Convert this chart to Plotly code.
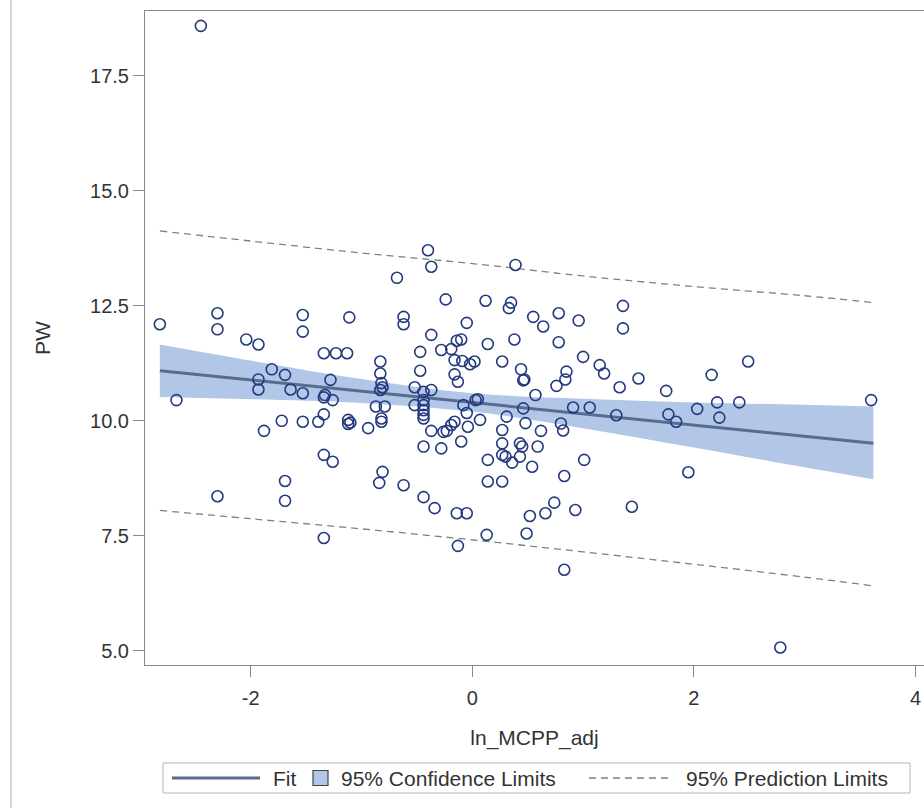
import plotly.graph_objects as go

# ---------------- data ----------------
ln_mcpp_adj = [
    -2.82, -2.67, -2.45, -2.30, -2.30, -2.30, -2.04, -1.93, -1.81, -1.93,
    -1.93, -1.69, -1.64, -1.53, -1.53, -1.53, -1.88, -1.72, -1.53, -1.69,
    -1.69, -1.11, -1.34, -1.23, -1.13, -1.28, -1.34, -1.33, -1.26, -1.39,
    -1.34, -1.12, -1.12, -1.10, -0.94, -1.34, -1.26, -1.34,
    -0.83, -0.83, -0.82, -0.81, -0.83, -0.87, -0.79, -0.82, -0.82, -0.81, -0.84,
    -0.68, -0.62, -0.62, -0.62, -0.47, -0.47, -0.52, -0.37, -0.44, -0.52,
    -0.44, -0.44, -0.44, -0.44, -0.44, -0.37, -0.44, -0.44, -0.34, -0.40,
    -0.37, -0.37, -0.28, -0.24, -0.28,
    -0.19, -0.10, -0.14, -0.05, -0.16, -0.09, -0.02, 0.02, -0.16, -0.13,
    0.05, 0.03, -0.08, -0.05, 0.07, -0.04, -0.16, -0.19, -0.23, -0.26,
    -0.10, -0.14, -0.05, -0.13,
    0.12, 0.35, 0.33, 0.39, 0.55, 0.64, 0.14, 0.38, 0.27, 0.44,
    0.47, 0.46, 0.57, 0.46, 0.31, 0.48, 0.27, 0.27, 0.27, 0.30,
    0.36, 0.43, 0.45, 0.43, 0.62, 0.59, 0.54, 0.14, 0.14, 0.27,
    0.13, 0.49, 0.52, 0.66, 0.74,
    0.78, 0.96, 0.78, 1.00, 1.15, 1.19, 0.85, 0.84, 0.76, 0.91,
    1.06, 0.80, 0.82, 1.01, 0.83, 0.93, 0.83, 1.30, 1.36, 1.36,
    1.33, 1.50, 2.49, 2.16, 1.75, 1.77, 1.84, 2.03, 2.21, 2.23,
    2.41, 3.60, 1.95, 1.44, 2.78,
]
pw = [
    12.10, 10.45, 18.59, 12.34, 11.99, 8.36, 11.77, 11.66, 11.12, 10.90,
    10.68, 11.00, 10.68, 10.60, 12.30, 11.94, 9.78, 10.00, 9.98, 8.69,
    8.26, 12.25, 11.47, 11.47, 11.47, 10.89, 10.51, 10.56, 10.45, 9.98,
    10.14, 10.02, 9.93, 9.96, 9.84, 9.26, 9.11, 7.45,
    11.29, 11.03, 10.82, 10.73, 10.67, 10.31, 10.31, 10.05, 9.98, 8.89, 8.65,
    13.11, 12.26, 12.10, 8.60, 11.50, 11.09, 10.73, 10.67, 10.63, 10.34,
    10.45, 10.34, 10.23, 10.13, 10.05, 9.78, 9.44, 8.34, 8.10, 13.71,
    13.35, 11.87, 11.54, 12.64, 9.40,
    11.56, 11.77, 11.74, 12.13, 11.32, 11.30, 11.23, 11.29, 11.01, 10.85,
    10.47, 10.45, 10.34, 10.17, 10.02, 9.87, 9.98, 9.91, 9.78, 9.76,
    9.55, 7.99, 7.99, 7.28,
    12.61, 12.57, 12.45, 13.39, 12.26, 12.05, 11.67, 11.77, 11.29, 11.12,
    10.90, 10.88, 10.56, 10.27, 10.09, 9.95, 9.80, 9.51, 9.26, 9.22,
    9.09, 9.51, 9.44, 9.22, 9.78, 9.44, 9.00, 9.15, 8.68, 8.68,
    7.52, 7.55, 7.93, 7.99, 8.22,
    12.34, 12.18, 11.71, 11.39, 11.21, 11.03, 11.07, 10.90, 10.76, 10.29,
    10.29, 9.94, 9.79, 9.15, 8.80, 8.06, 6.76, 10.12, 12.50, 12.01,
    10.73, 10.92, 11.29, 11.00, 10.65, 10.14, 9.98, 10.26, 10.40, 10.07,
    10.40, 10.45, 8.88, 8.13, 5.07,
]

# fitted line, confidence band and prediction limits read at several x positions
fit_x = [-2.82, -2.0, -1.0, 0.0, 1.0, 2.0, 3.0, 3.62]
fit_y = [11.09, 10.89, 10.65, 10.40, 10.16, 9.91, 9.67, 9.51]
cl_upper = [11.66, 11.31, 10.91, 10.60, 10.48, 10.40, 10.35, 10.31]
cl_lower = [10.52, 10.47, 10.39, 10.20, 9.84, 9.42, 8.99, 8.73]
pl_upper = [14.13, 13.91, 13.65, 13.42, 13.15, 12.92, 12.72, 12.57]
pl_lower = [8.05, 7.87, 7.65, 7.41, 7.15, 6.88, 6.60, 6.41]

x_tick_vals = [-2, 0, 2, 4]
x_tick_labels = ["-2", "0", "2", "4"]
y_tick_vals = [5.0, 7.5, 10.0, 12.5, 15.0, 17.5]
y_tick_labels = ["5.0", "7.5", "10.0", "12.5", "15.0", "17.5"]

x_title = "ln_MCPP_adj"
y_title = "PW"
legend_labels = ["Fit", "95% Confidence Limits", "95% Prediction Limits"]

# ---------------- styling ----------------
FONT = "Liberation Sans, Arial, sans-serif"
BAND = "#b2c6e8"
FITC = "#5a6c8e"
MARK = "#243a7e"
PRED = "#808080"
AXIS = "#8a8a8a"
TEXT = "#333333"

fig = go.Figure()

fig.add_trace(go.Scatter(x=fit_x, y=cl_upper, mode="lines", line=dict(width=0, shape="spline"),
                         hoverinfo="skip", showlegend=False))
fig.add_trace(go.Scatter(x=fit_x, y=cl_lower, mode="lines", line=dict(width=0, shape="spline"),
                         fill="tonexty", fillcolor=BAND, hoverinfo="skip", showlegend=False))
fig.add_trace(go.Scatter(x=fit_x, y=fit_y, mode="lines", line=dict(color=FITC, width=3),
                         name=legend_labels[0], showlegend=False))
fig.add_trace(go.Scatter(x=fit_x, y=pl_upper, mode="lines",
                         line=dict(color=PRED, width=1.3, dash="7px,5px", shape="spline"),
                         name=legend_labels[2], showlegend=False))
fig.add_trace(go.Scatter(x=fit_x, y=pl_lower, mode="lines",
                         line=dict(color=PRED, width=1.3, dash="7px,5px", shape="spline"),
                         showlegend=False))
fig.add_trace(go.Scatter(x=ln_mcpp_adj, y=pw, mode="markers",
                         marker=dict(symbol="circle-open", size=11, color=MARK,
                                     line=dict(width=1.6, color=MARK)),
                         showlegend=False))

W, H = 924, 808
L, R, T, B = 145, 0, 11, 143
PW_, PH_ = W - L - R, H - T - B

def px(xp):
    return (xp - L) / PW_

def py(yp):
    return (H - B - yp) / PH_

shapes = [
    # outer left border of the picture
    dict(type="line", xref="paper", yref="paper", x0=px(11), x1=px(11), y0=py(0), y1=py(808),
         line=dict(color="#c8c8c8", width=1.5)),
    # legend box
    dict(type="rect", xref="paper", yref="paper", x0=px(163), x1=px(910), y0=py(793), y1=py(763),
         line=dict(color="#b4b4b4", width=1), fillcolor="white"),
    dict(type="line", xref="paper", yref="paper", x0=px(172), x1=px(260), y0=py(778), y1=py(778),
         line=dict(color=FITC, width=3)),
    dict(type="rect", xref="paper", yref="paper", x0=px(313), x1=px(328), y0=py(785.5), y1=py(770.5),
         line=dict(color="#444444", width=1.2), fillcolor=BAND),
    dict(type="line", xref="paper", yref="paper", x0=px(589), x1=px(668), y0=py(778), y1=py(778),
         line=dict(color=PRED, width=1.3, dash="7px,5px")),
]

annotations = [
    dict(text=legend_labels[0], xref="paper", yref="paper", x=px(271), y=py(778), xanchor="left",
         yanchor="middle", showarrow=False, font=dict(family=FONT, size=21, color=TEXT)),
    dict(text=legend_labels[1], xref="paper", yref="paper", x=px(339), y=py(778), xanchor="left",
         yanchor="middle", showarrow=False, font=dict(family=FONT, size=21, color=TEXT)),
    dict(text=legend_labels[2], xref="paper", yref="paper", x=px(684), y=py(778), xanchor="left",
         yanchor="middle", showarrow=False, font=dict(family=FONT, size=21, color=TEXT)),
]

fig.update_layout(
    width=W, height=H,
    margin=dict(l=L, r=R, t=T, b=B, pad=0),
    paper_bgcolor="white", plot_bgcolor="white",
    showlegend=False,
    hovermode=False,
    font=dict(family=FONT, color=TEXT),
    shapes=shapes,
    annotations=annotations,
    xaxis=dict(
        range=[-2.954, 4.077], tickmode="array", tickvals=x_tick_vals, ticktext=x_tick_labels,
        ticks="outside", ticklen=11, tickwidth=1, tickcolor=AXIS,
        showline=True, linecolor=AXIS, linewidth=1, mirror=True,
        showgrid=False, zeroline=False, ticklabelstandoff=4,
        tickfont=dict(family=FONT, size=20, color=TEXT),
        title=dict(text=x_title, font=dict(family=FONT, size=21, color=TEXT), standoff=22),
        automargin=False,
    ),
    yaxis=dict(
        range=[4.689, 18.913], tickmode="array", tickvals=y_tick_vals, ticktext=y_tick_labels,
        ticks="outside", ticklen=11, tickwidth=1, tickcolor=AXIS,
        showline=True, linecolor=AXIS, linewidth=1, mirror=False,
        showgrid=False, zeroline=False,
        tickfont=dict(family=FONT, size=20, color=TEXT),
        title=dict(text=y_title, font=dict(family=FONT, size=21, color=TEXT), standoff=33),
        automargin=False,
    ),
)

fig.write_html(
    "out.html",
    config={"displayModeBar": False},
    post_script="document.body.style.margin='0';document.body.style.overflow='hidden';",
)
